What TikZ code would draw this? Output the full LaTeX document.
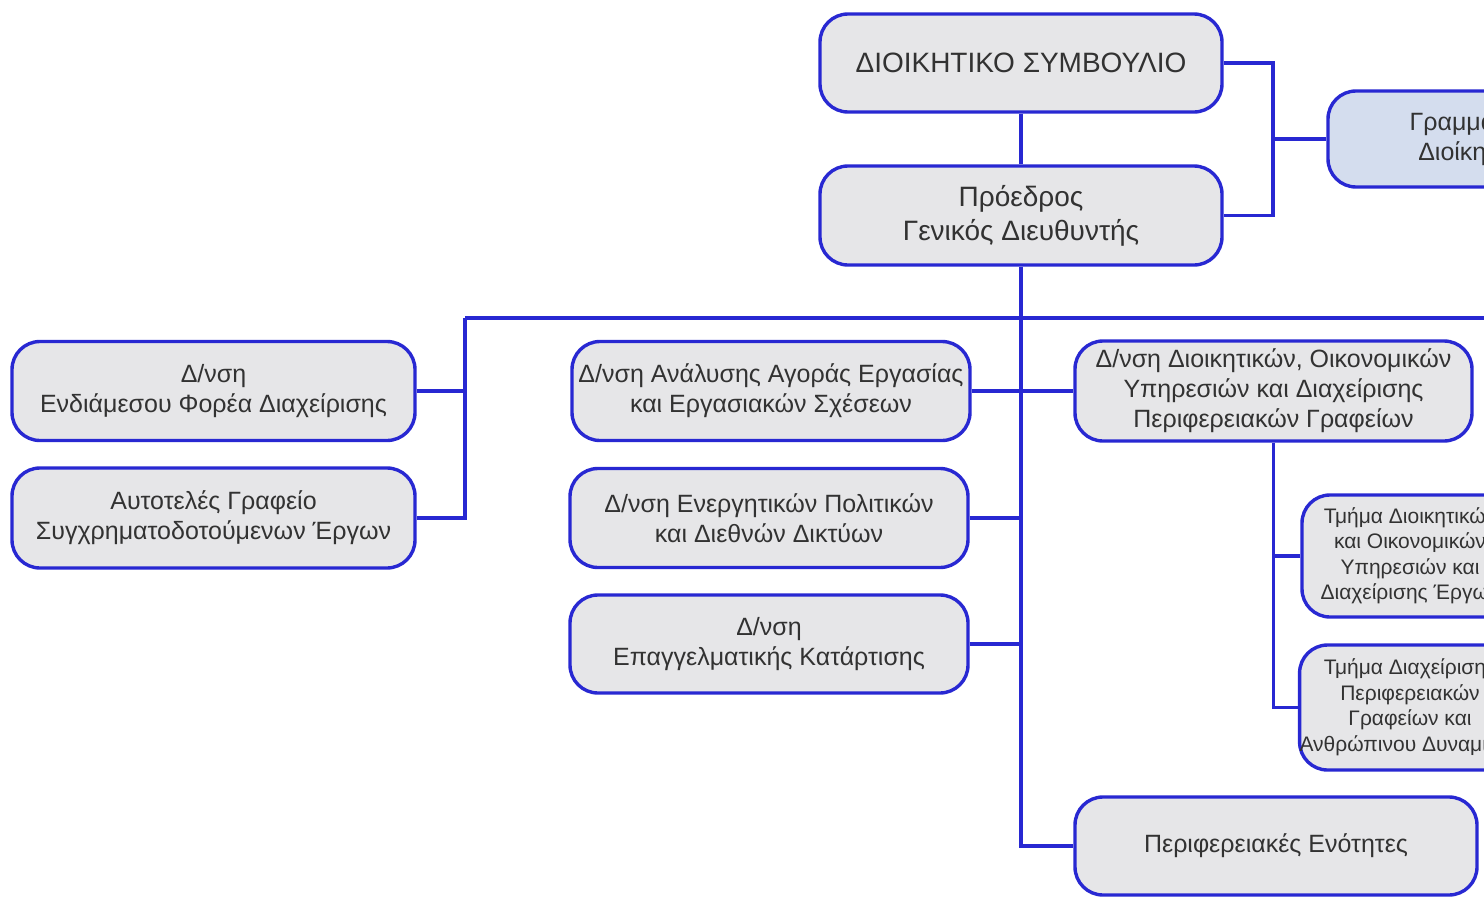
\documentclass[tikz,border=0pt]{standalone}
\usepackage{fontspec}
\setmainfont{Liberation Sans}
\definecolor{lineblue}{RGB}{40,40,210}
\definecolor{boxgray}{RGB}{230,230,232}
\definecolor{boxblue}{RGB}{212,221,238}
\definecolor{textgray}{RGB}{50,50,50}
\begin{document}
\begin{tikzpicture}[x=1pt,y=-1pt,
  box/.style={draw=lineblue, line width=3.4pt, fill=boxgray, rounded corners=28pt,
    align=center, text=textgray, inner sep=0pt},
  conn/.style={draw=lineblue, line width=3.4pt},
  fbig/.style={font=\fontsize{28}{34}\selectfont},
  fnorm/.style={font=\fontsize{25}{30}\selectfont},
  fsmall/.style={font=\fontsize{21}{25.5}\selectfont}]
\useasboundingbox (0,0) rectangle (1484,897);
\clip (0,0) rectangle (1484,897);
\fill[white] (0,0) rectangle (1484,897);
% nodes
\node[box,fbig,minimum width=402pt,minimum height=98pt] (ds) at (1021,63) {ΔΙΟΙΚΗΤΙΚΟ ΣΥΜΒΟΥΛΙΟ};
\node[box,fbig,minimum width=402pt,minimum height=99pt] (pr) at (1021,215.5) {Πρόεδρος\\Γενικός Διευθυντής};
\node[box,fnorm,fill=boxblue,minimum width=290pt,minimum height=96pt] (gr) at (1473,139) {Γραμματεία\\Διοίκησης};
\node[box,fnorm,minimum width=403pt,minimum height=99pt] (l1) at (213.5,391) {Δ/νση\\Ενδιάμεσου Φορέα Διαχείρισης};
\node[box,fnorm,minimum width=403pt,minimum height=100pt] (l2) at (213.5,518) {Αυτοτελές Γραφείο\\Συγχρηματοδοτούμενων Έργων};
\node[box,fnorm,minimum width=398pt,minimum height=99pt] (a) at (771,391) {Δ/νση Ανάλυσης Αγοράς Εργασίας\\και Εργασιακών Σχέσεων};
\node[box,fnorm,minimum width=398pt,minimum height=99pt] (b) at (769,518) {Δ/νση Ενεργητικών Πολιτικών\\και Διεθνών Δικτύων};
\node[box,fnorm,minimum width=398pt,minimum height=98pt] (c) at (769,644) {Δ/νση\\Επαγγελματικής Κατάρτισης};
\node[box,fnorm,minimum width=397pt,minimum height=100pt] (d) at (1273.5,391) {Δ/νση Διοικητικών, Οικονομικών\\Υπηρεσιών και Διαχείρισης\\Περιφερειακών Γραφείων};
\node[box,fsmall,minimum width=216pt,minimum height=122pt] (t1) at (1410,556) {Τμήμα Διοικητικών\\και Οικονομικών\\Υπηρεσιών και\\Διαχείρισης Έργων};
\node[box,fsmall,minimum width=216pt,minimum height=125pt] (t2) at (1410,707.5) {Τμήμα Διαχείρισης\\Περιφερειακών\\Γραφείων και\\Ανθρώπινου Δυναμικού};
\node[box,fnorm,minimum width=402pt,minimum height=98pt] (pe) at (1276,846) {Περιφερειακές Ενότητες};
% coordinates
\coordinate (rj) at (1273,139);
\coordinate (hl) at (465,318);
\coordinate (hr) at (1500,318);
% connectors
\draw[conn] (ds.south) -- (pr.north);
\draw[conn] (ds.east) -| (rj) |- (pr.east);
\draw[conn] (rj) -- (gr.west);
\draw[conn] (pr.south) -- (pr.south |- pe.west) -- (pe.west);
\draw[conn] (hl) -- (hr);
\draw[conn] (hl) |- (l2.east);
\draw[conn] (l1.east) -- (l1.east -| hl);
\draw[conn] (a.east) -- (d.west);
\draw[conn] (b.east) -- (b.east -| pr.south);
\draw[conn] (c.east) -- (c.east -| pr.south);
\draw[conn] (d.south) -- (d.south |- t2.west) -- (t2.west);
\draw[conn] (t1.west) -- (t1.west -| d.south);
\end{tikzpicture}
\end{document}
